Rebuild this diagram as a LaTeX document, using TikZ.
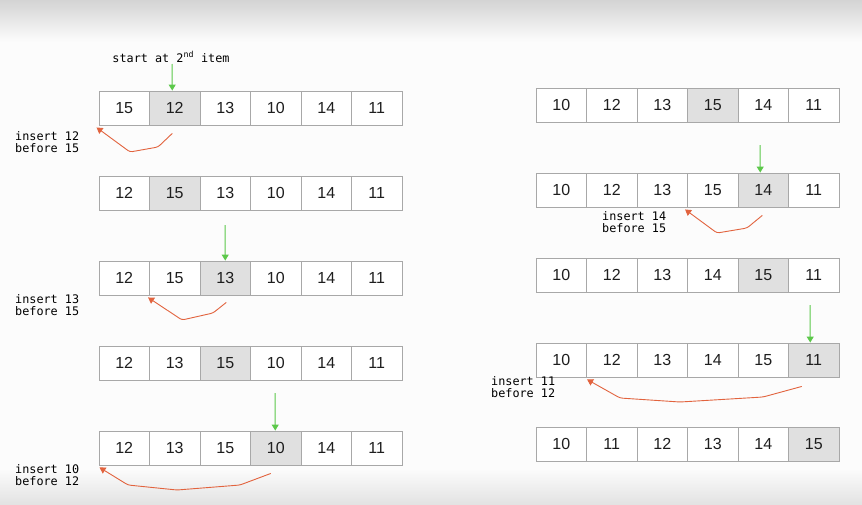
\documentclass[tikz,border=0pt]{standalone}
\usepackage{fontspec}
\setmainfont{Liberation Sans}
\newfontfamily\monof{DejaVu Sans Mono}
\usetikzlibrary{arrows.meta}
\definecolor{cellline}{HTML}{A8A8A8}
\definecolor{shade}{HTML}{E0E0E0}
\definecolor{grn}{HTML}{5CC84A}
\definecolor{rd}{HTML}{E2633E}
\definecolor{txt}{HTML}{1E1E1E}
\tikzset{
  cell/.style={draw=cellline, line width=0.9pt, minimum width=50.5pt, minimum height=34pt,
    inner sep=0pt, font=\fontsize{16}{16}\selectfont, text=txt},
  lbl/.style={font=\monof\fontsize{11.8}{12.2}\selectfont, text=black, align=left, inner sep=0pt},
  gar/.style={draw=grn, line width=1pt, -{Triangle[width=7pt,length=6pt]}},
  rar/.style={draw=rd, line width=0.9pt, rounded corners=2.5pt, -{Triangle[width=7pt,length=6pt]}}
}
% name, x0, yc, values, shaded index
\newcommand\cellrow[5]{%
  \foreach \v [count=\i] in {#4} {%
    \edef\fc{\ifnum\i=#5 shade\else white\fi}%
    \node[cell, fill=\fc] (#1c\i) at ({#2+(\i-0.5)*50.5}, #3) {\v};
  }%
}
\begin{document}
\begin{tikzpicture}[x=1pt, y=-1pt]
\useasboundingbox (0,0) rectangle (862,504);
\fill[white!98!gray] (0,0) rectangle (862,504);
\shade[top color=black!17, bottom color=white!98!gray] (0,0) rectangle (862,42);
\shade[top color=white!98!gray, bottom color=black!11] (0,468) rectangle (862,504);

% left column
\cellrow{La}{99}{108}{15,12,13,10,14,11}{2}
\cellrow{Lb}{99}{193}{12,15,13,10,14,11}{2}
\cellrow{Lc}{99}{278}{12,15,13,10,14,11}{3}
\cellrow{Ld}{99}{363}{12,13,15,10,14,11}{3}
\cellrow{Le}{99}{448}{12,13,15,10,14,11}{4}
% right column
\cellrow{Ra}{536}{105}{10,12,13,15,14,11}{4}
\cellrow{Rb}{536}{190}{10,12,13,15,14,11}{5}
\cellrow{Rc}{536}{275}{10,12,13,14,15,11}{5}
\cellrow{Rd}{536}{360}{10,12,13,14,15,11}{6}
\cellrow{Re}{536}{444}{10,11,12,13,14,15}{6}

% labels
\node[lbl] (start) at (171,57) {start at 2\textsuperscript{nd} item};
\node[lbl, anchor=north west] (t1) at (15,131) {insert 12\\before 15};
\node[lbl, anchor=north west] (t2) at (15,294) {insert 13\\before 15};
\node[lbl, anchor=north west] (t3) at (15,464) {insert 10\\before 12};
\node[lbl, anchor=north west] (t4) at (602,211) {insert 14\\before 15};
\node[lbl, anchor=north west] (t5) at (491,376) {insert 11\\before 12};

% green arrows
\coordinate (g1) at (172,64);
\coordinate (g2) at (225,225);
\coordinate (g3) at (275,393);
\coordinate (g4) at (760,145);
\coordinate (g5) at (810,305);
\draw[gar] (g1) -- ([xshift=-2.5pt]Lac2.north);
\draw[gar] (g2) -- (Lcc3.north);
\draw[gar] (g3) -- ([xshift=-0.5pt]Lec4.north);
\draw[gar] (g4) -- ([xshift=-3pt]Rbc5.north);
\draw[gar] (g5) -- ([xshift=-3.5pt]Rdc6.north);

% red arrows
\draw[rar] ([xshift=-2.5pt,yshift=-8pt]Lac2.south) -- (158,147) -- (130,152) -- ([xshift=-2pt,yshift=-2pt]Lac1.south west);
\draw[rar] ([xshift=1pt,yshift=-7pt]Lcc3.south) -- (213,313) -- (182,320) -- ([xshift=-1pt,yshift=-2pt]Lcc2.south west);
\draw[rar] ([xshift=-5pt,yshift=-8pt]Lec4.south) -- (240,485) -- (177,490) -- (128,485) -- ([xshift=1pt,yshift=-2pt]Lec1.south west);
\draw[rar] ([xshift=-1pt,yshift=-8pt]Rbc5.south) -- (747,228) -- (717,233) -- ([xshift=-2pt,yshift=-2pt]Rbc4.south west);
\draw[rar] ([xshift=-12pt,yshift=-9pt]Rdc6.south) -- (763,397) -- (680,402) -- (620,398) -- ([xshift=1pt,yshift=-2pt]Rdc2.south west);
\end{tikzpicture}
\end{document}
